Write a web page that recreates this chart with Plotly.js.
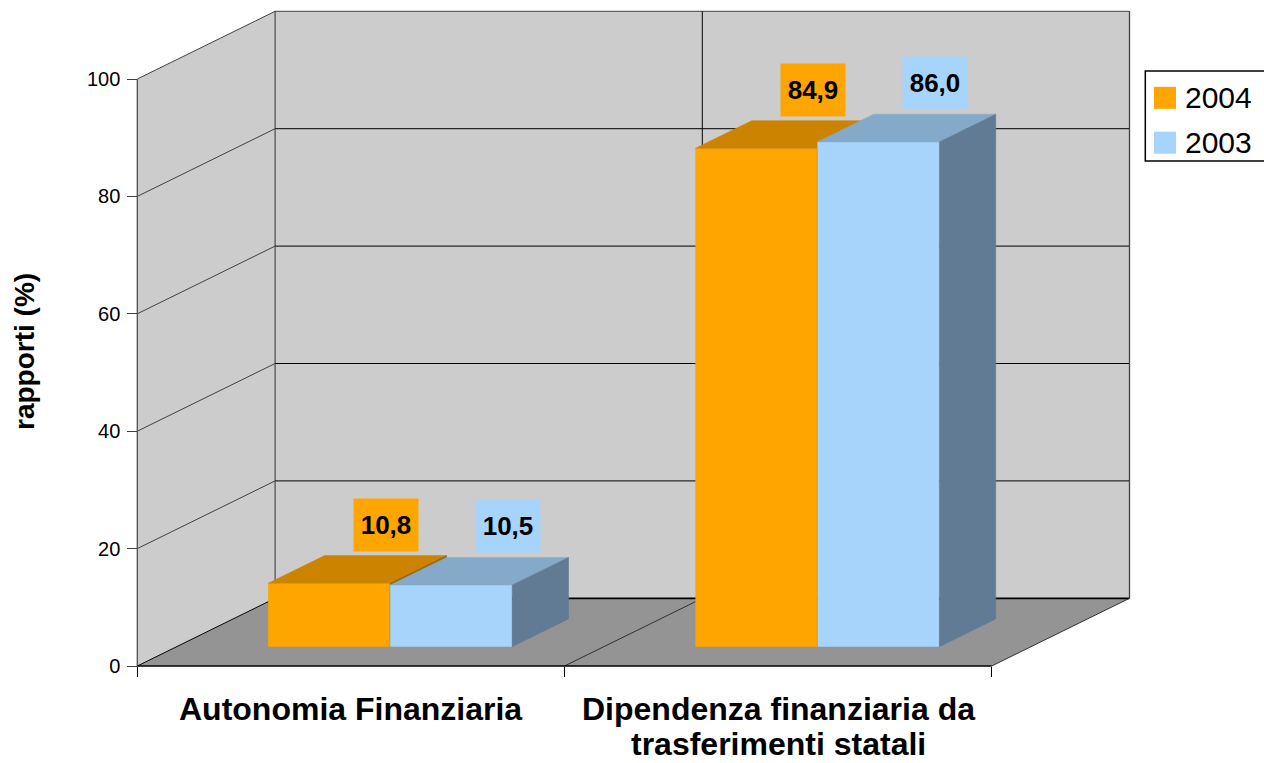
<!DOCTYPE html>
<html>
<head>
<meta charset="utf-8">
<script src="https://cdn.plot.ly/plotly-3.0.1.min.js"></script>
<style>
html,body{margin:0;padding:0;background:#ffffff;}
#chart{width:1264px;height:763px;}
</style>
</head>
<body>
<div id="chart"></div>
<script>
// ---------------- data ----------------
const categories = ["Autonomia Finanziaria", "Dipendenza finanziaria da<br>trasferimenti statali"];
const seriesNames = ["2004", "2003"];
const values2004 = [10.8, 84.9];
const values2003 = [10.5, 86.0];
const yTickValues = [0, 20, 40, 60, 80, 100];
const yAxisTitle = "rapporti (%)";

// ---------------- styles / geometry ----------------
const FONT = "Liberation Sans, Arial, Helvetica, sans-serif";
const W = 1264, H = 763;
const FRONT_LEFT_PX = 137.3;   // pixel of left edge of the front plane
const CAT_PX = 427.2;          // pixels per category
const ZERO_PX = 666;           // pixel of value 0 on front plane
const UNIT_PX = 5.87;          // pixels per value unit
const DEPTH_DX_PX = 137.8, DEPTH_DY_PX = 67.7;
const DX = DEPTH_DX_PX / CAT_PX;   // full depth shift (category units)
const DY = DEPTH_DY_PX / UNIT_PX;  // full depth shift (value units)
const T1 = 0.285, T2 = 0.694;      // bar front / back depth
const BAR_W = 0.2856;
const Y_MAX = yTickValues[yTickValues.length - 1];

const seriesValues = [values2004, values2003];
const styles = [
  {front: '#FFA500', top: '#CC8400', side: '#9A6300'},
  {front: '#A6D4FA', top: '#85AAC9', side: '#617B94'}
];

const xRange = [-0.5 - FRONT_LEFT_PX / CAT_PX, -0.5 + (W - FRONT_LEFT_PX) / CAT_PX];
const yRange = [(ZERO_PX - H) / UNIT_PX, ZERO_PX / UNIT_PX];

function P(c, v, t) { return [c + DX * t, v + DY * t]; }
function pathOf(pts, close) {
  return 'M' + pts.map(p => p[0].toFixed(5) + ',' + p[1].toFixed(5)).join('L') + (close ? 'Z' : '');
}
function fmt(v) { return v.toFixed(1).replace('.', ','); }

const nCat = categories.length;
const cL = -0.5, cR = nCat - 0.5;

// ---------------- walls and grid (shapes) ----------------
const shapes = [];
function poly(pts, fill) {
  shapes.push({type: 'path', xref: 'x', yref: 'y', layer: 'below', path: pathOf(pts, true),
    fillcolor: fill, line: {width: 0}});
}
function seg(a, b, color, width) {
  shapes.push({type: 'path', xref: 'x', yref: 'y', layer: 'below', path: pathOf([a, b], false),
    line: {color: color, width: width}});
}
// left wall
poly([P(cL, 0, 0), P(cL, Y_MAX, 0), P(cL, Y_MAX, 1), P(cL, 0, 1)], '#CCCCCC');
// back wall
poly([P(cL, 0, 1), P(cR, 0, 1), P(cR, Y_MAX, 1), P(cL, Y_MAX, 1)], '#CCCCCC');
// floor
poly([P(cL, 0, 0), P(cR, 0, 0), P(cR, 0, 1), P(cL, 0, 1)], '#949494');

yTickValues.forEach(v => {
  seg(P(cL, v, 1), P(cR, v, 1), v === Y_MAX ? '#404040' : '#000000', v === 0 ? 1.8 : 1);
  seg(P(cL, v, 0), P(cL, v, 1), v === 0 ? '#000000' : '#404040', 1);
});
for (let b = 1; b < nCat; b++) {
  const c = b - 0.5;
  seg(P(c, 0, 1), P(c, Y_MAX, 1), '#000000', 1);
  seg(P(c, 0, 0), P(c, 0, 1), '#303030', 1);
}
seg(P(cL, 0, 1), P(cL, Y_MAX, 1), '#303030', 1);        // back wall left edge
seg(P(cR, 0, 1), P(cR, Y_MAX, 1), '#404040', 1.3);      // back wall right edge
seg(P(cL, 0, 0), P(cL, Y_MAX, 0), '#505050', 1.3);      // left wall front edge
seg(P(cR, 0, 0), P(cR, 0, 1), '#303030', 1);            // floor right edge
seg(P(cL, 0, 0), P(cR, 0, 0), '#000000', 1.6);          // floor front edge

// ---------------- bars ----------------
const traces = [];
const annotations = [];
seriesValues.forEach((vals, s) => {
  const xa = s === 0 ? 'x' : 'x2', ya = s === 0 ? 'y' : 'y2';
  const st = styles[s];
  const off = (s - 0.5) * BAR_W;
  const centers = categories.map((_, i) => i + off);
  traces.push({
    type: 'bar', name: seriesNames[s], xaxis: xa, yaxis: ya,
    x: centers.map(c => c + DX * T1), y: vals, base: vals.map(() => DY * T1),
    width: BAR_W, marker: {color: st.front, line: {width: 0}},
    showlegend: false, hoverinfo: 'skip'
  });
  vals.forEach((v, i) => {
    const x0 = centers[i] - BAR_W / 2, x1 = centers[i] + BAR_W / 2;
    const top = [P(x0, v, T1), P(x1, v, T1), P(x1, v, T2), P(x0, v, T2)];
    const side = [P(x1, 0, T1), P(x1, v, T1), P(x1, v, T2), P(x1, 0, T2)];
    [[top, st.top], [side, st.side]].forEach(([pts, col]) => {
      const closed = pts.concat([pts[0]]);
      traces.push({
        type: 'scatter', mode: 'lines', fill: 'toself', xaxis: xa, yaxis: ya,
        x: closed.map(p => p[0]), y: closed.map(p => p[1]),
        fillcolor: col, line: {color: col, width: 0.5},
        showlegend: false, hoverinfo: 'skip'
      });
    });
    const lp = P(centers[i], v, T2);
    annotations.push({
      xref: 'x', yref: 'y', x: lp[0], y: lp[1], text: '<b>' + fmt(v) + '</b>',
      showarrow: false, xanchor: 'center', yanchor: 'bottom', yshift: 4,
      bgcolor: st.front, width: 50, height: 38, borderpad: 7,
      font: {family: FONT, size: 26, color: '#000000'}
    });
  });
});

// ---------------- category labels ----------------
categories.forEach((cat, i) => {
  cat.split('<br>').forEach((line, k) => {
    annotations.push({
      xref: 'x', yref: 'paper', x: i, y: 1 - (709 + k * 35) / H,
      text: '<b>' + line + '</b>', showarrow: false, xanchor: 'center', yanchor: 'middle',
      font: {family: FONT, size: 32, color: '#000000'}
    });
  });
});

// ---------------- y axis title ----------------
annotations.push({
  xref: 'paper', yref: 'paper', x: 25 / W, y: 1 - 352 / H, textangle: -90,
  text: '<b>' + yAxisTitle + '</b>', showarrow: false, xanchor: 'center', yanchor: 'middle',
  font: {family: FONT, size: 28, color: '#000000'}
});

// ---------------- legend (drawn) ----------------
const LEG = {left: 1145.3, top: 71, bottom: 161, sqX: 1154, sqSize: 22, textX: 1183, rows: [97.8, 142.7]};
shapes.push({type: 'rect', xref: 'paper', yref: 'paper', layer: 'above',
  x0: LEG.left / W, x1: 1.02, y0: 1 - LEG.bottom / H, y1: 1 - LEG.top / H,
  fillcolor: '#FFFFFF', line: {color: '#000000', width: 1.5}});
seriesNames.forEach((nm, s) => {
  const cy = LEG.rows[s];
  shapes.push({type: 'rect', xref: 'paper', yref: 'paper', layer: 'above',
    x0: LEG.sqX / W, x1: (LEG.sqX + LEG.sqSize) / W,
    y0: 1 - (cy + LEG.sqSize / 2) / H, y1: 1 - (cy - LEG.sqSize / 2) / H,
    fillcolor: styles[s].front, line: {width: 0}});
  annotations.push({
    xref: 'paper', yref: 'paper', x: LEG.textX / W, y: 1 - cy / H, text: nm,
    showarrow: false, xanchor: 'left', yanchor: 'middle',
    font: {family: FONT, size: 30, color: '#000000'}
  });
});

const layout = {
  width: W, height: H,
  margin: {l: 0, r: 0, t: 0, b: 0, pad: 0},
  paper_bgcolor: '#FFFFFF', plot_bgcolor: 'rgba(0,0,0,0)',
  barmode: 'overlay', showlegend: false,
  xaxis: {
    range: xRange, anchor: 'free', position: (H - ZERO_PX) / H,
    tickmode: 'array', tickvals: Array.from({length: nCat + 1}, (_, b) => b - 0.5),
    ticks: 'outside', ticklen: 10, tickwidth: 1.5, tickcolor: '#000000',
    showticklabels: false, showgrid: false, zeroline: false, showline: false, fixedrange: true
  },
  yaxis: {
    range: yRange, anchor: 'free', position: FRONT_LEFT_PX / W,
    tickmode: 'array', tickvals: yTickValues, ticktext: yTickValues.map(String),
    ticks: 'outside', ticklen: 10, tickwidth: 1, tickcolor: '#404040',
    ticklabelstandoff: 3,
    tickfont: {family: FONT, size: 20, color: '#000000'},
    showgrid: false, zeroline: false, showline: false, fixedrange: true
  },
  xaxis2: {range: xRange, overlaying: 'x', visible: false, fixedrange: true},
  yaxis2: {range: yRange, overlaying: 'y', visible: false, fixedrange: true},
  shapes: shapes,
  annotations: annotations
};

Plotly.newPlot('chart', traces, layout, {displayModeBar: false, staticPlot: true});
</script>
</body>
</html>
